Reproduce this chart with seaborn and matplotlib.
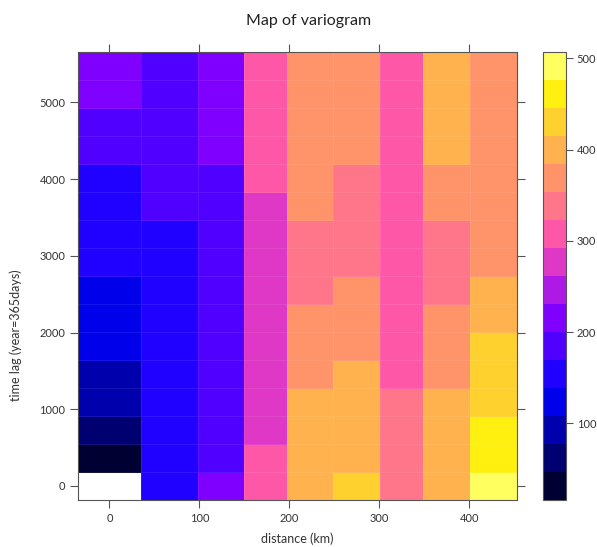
import numpy as np
import matplotlib
matplotlib.use("Agg")
import matplotlib.pyplot as plt
from matplotlib.colors import ListedColormap, BoundaryNorm
from matplotlib.ticker import NullLocator
import seaborn as sns

# ---------------- data ----------------
dist_km = [0, 70, 126, 174, 220, 278, 323, 375, 427]
timelag_days = [0, 365, 730, 1095, 1460, 1825, 2190, 2555, 2920,
                3285, 3650, 4015, 4380, 4745, 5110, 5475]

# semivariance per distance bin, ordered by time lag (0 ... 5475 days)
gamma_d0 = [np.nan, 16, 62, 95, 92, 121, 124, 122, 152, 155, 151, 157, 186, 183, 214, 217]
gamma_d70 = [154, 152, 156, 153, 155, 150, 154, 157, 152, 155, 184, 187, 183, 186, 185, 182]
gamma_d126 = [216, 186, 183, 185, 188, 184, 186, 182, 185, 187, 184, 186, 215, 217, 214, 216]
gamma_d174 = [308, 305, 277, 279, 276, 278, 275, 279, 277, 276, 280, 306, 308, 309, 307, 310]
gamma_d220 = [402, 398, 401, 399, 370, 367, 372, 339, 336, 341, 369, 371, 368, 370, 367, 372]
gamma_d278 = [431, 402, 399, 401, 398, 370, 368, 371, 339, 337, 340, 338, 369, 372, 368, 370]
gamma_d323 = [339, 337, 341, 338, 308, 306, 309, 307, 310, 305, 308, 307, 309, 306, 308, 310]
gamma_d375 = [401, 399, 402, 398, 369, 371, 368, 338, 341, 337, 370, 368, 401, 399, 402, 400]
gamma_d427 = [507, 462, 460, 432, 429, 431, 401, 398, 369, 371, 368, 370, 372, 367, 369, 371]

x_ticks = [0, 100, 200, 300, 400]
y_ticks = [0, 1000, 2000, 3000, 4000, 5000]
cbar_ticks = [100, 200, 300, 400, 500]
n_levels = 16

title = "Map of variogram"
xlabel = "distance (km)"
ylabel = "time lag (year=365days)"


def bpy_colors(n, cutoff_tails=0.1):
    i = np.linspace(0.5 * cutoff_tails, 1 - 0.5 * cutoff_tails, n)
    r = np.where(i < .25, 0, np.where(i < .57, i / .32 - .78125, 1))
    g = np.where(i < .42, 0, np.where(i < .92, 2 * i - .84, 1))
    b = np.where(i < .25, 4 * i, np.where(i < .42, 1,
                 np.where(i < .92, -2 * i + 1.84, i / .08 - 11.5)))
    return np.clip(np.column_stack([r, g, b]), 0, 1)


def edges_from_centers(c):
    c = np.asarray(c, dtype=float)
    mid = (c[:-1] + c[1:]) / 2
    return np.concatenate([[c[0] - (c[1] - c[0]) / 2], mid, [c[-1] + (c[-1] - c[-2]) / 2]])


# ---------------- style ----------------
sns.set_theme(style="white")
plt.rcParams['font.family'] = ['Lato', 'DejaVu Sans']
frame_col = "#555555"
text_col = "#333333"

Z = np.column_stack([gamma_d0, gamma_d70, gamma_d126, gamma_d174, gamma_d220,
                     gamma_d278, gamma_d323, gamma_d375, gamma_d427])
x_edges = edges_from_centers(dist_km)
y_edges = edges_from_centers(timelag_days)

zmin, zmax = np.nanmin(Z), np.nanmax(Z)
breaks = np.linspace(zmin, zmax, n_levels + 1)
cmap = ListedColormap(bpy_colors(n_levels))
norm = BoundaryNorm(breaks, n_levels, clip=True)

W, H = 597, 547
fig = plt.figure(figsize=(W / 100, H / 100), dpi=100)
ax = fig.add_axes([78 / W, (H - 500) / H, 439 / W, 448 / H])

mesh = ax.pcolormesh(x_edges, y_edges, np.ma.masked_invalid(Z), cmap=cmap, norm=norm,
                     edgecolors=(1, 1, 1, 0.08), linewidth=0.5)
ax.set_xlim(x_edges[0], x_edges[-1])
ax.set_ylim(y_edges[0], y_edges[-1])
ax.set_xticks(x_ticks)
ax.set_yticks(y_ticks)
ax.tick_params(axis='both', direction='out', length=6, width=0.8, color=frame_col,
               labelsize=8, labelcolor=text_col, pad=3,
               bottom=True, left=True, top=True, right=True,
               labeltop=False, labelright=False)
for s in ax.spines.values():
    s.set_color(frame_col)
    s.set_linewidth(0.8)
ax.grid(False)

cax = fig.add_axes([543 / W, (H - 500) / H, 22.5 / W, 448 / H])
cb = fig.colorbar(mesh, cax=cax, ticks=cbar_ticks)
cax.yaxis.set_minor_locator(NullLocator())
cb.outline.set_edgecolor(frame_col)
cb.outline.set_linewidth(0.8)
cax.tick_params(axis='y', which='major', direction='out', length=5, width=0.8, color=frame_col,
                labelsize=8, labelcolor=text_col, pad=3, right=True, left=False)
cax.tick_params(axis='y', which='minor', length=0)

fig.text(309 / W, 1 - 21 / H, title, ha='center', va='center', fontsize=11.5, color='#222222')
fig.text(297 / W, 1 - 539 / H, xlabel, ha='center', va='center', fontsize=9, color=text_col)
fig.text(16 / W, 1 - 335 / H, ylabel, ha='center', va='center', rotation=90, fontsize=9,
         color=text_col)

fig.savefig("out.png", dpi=100)
